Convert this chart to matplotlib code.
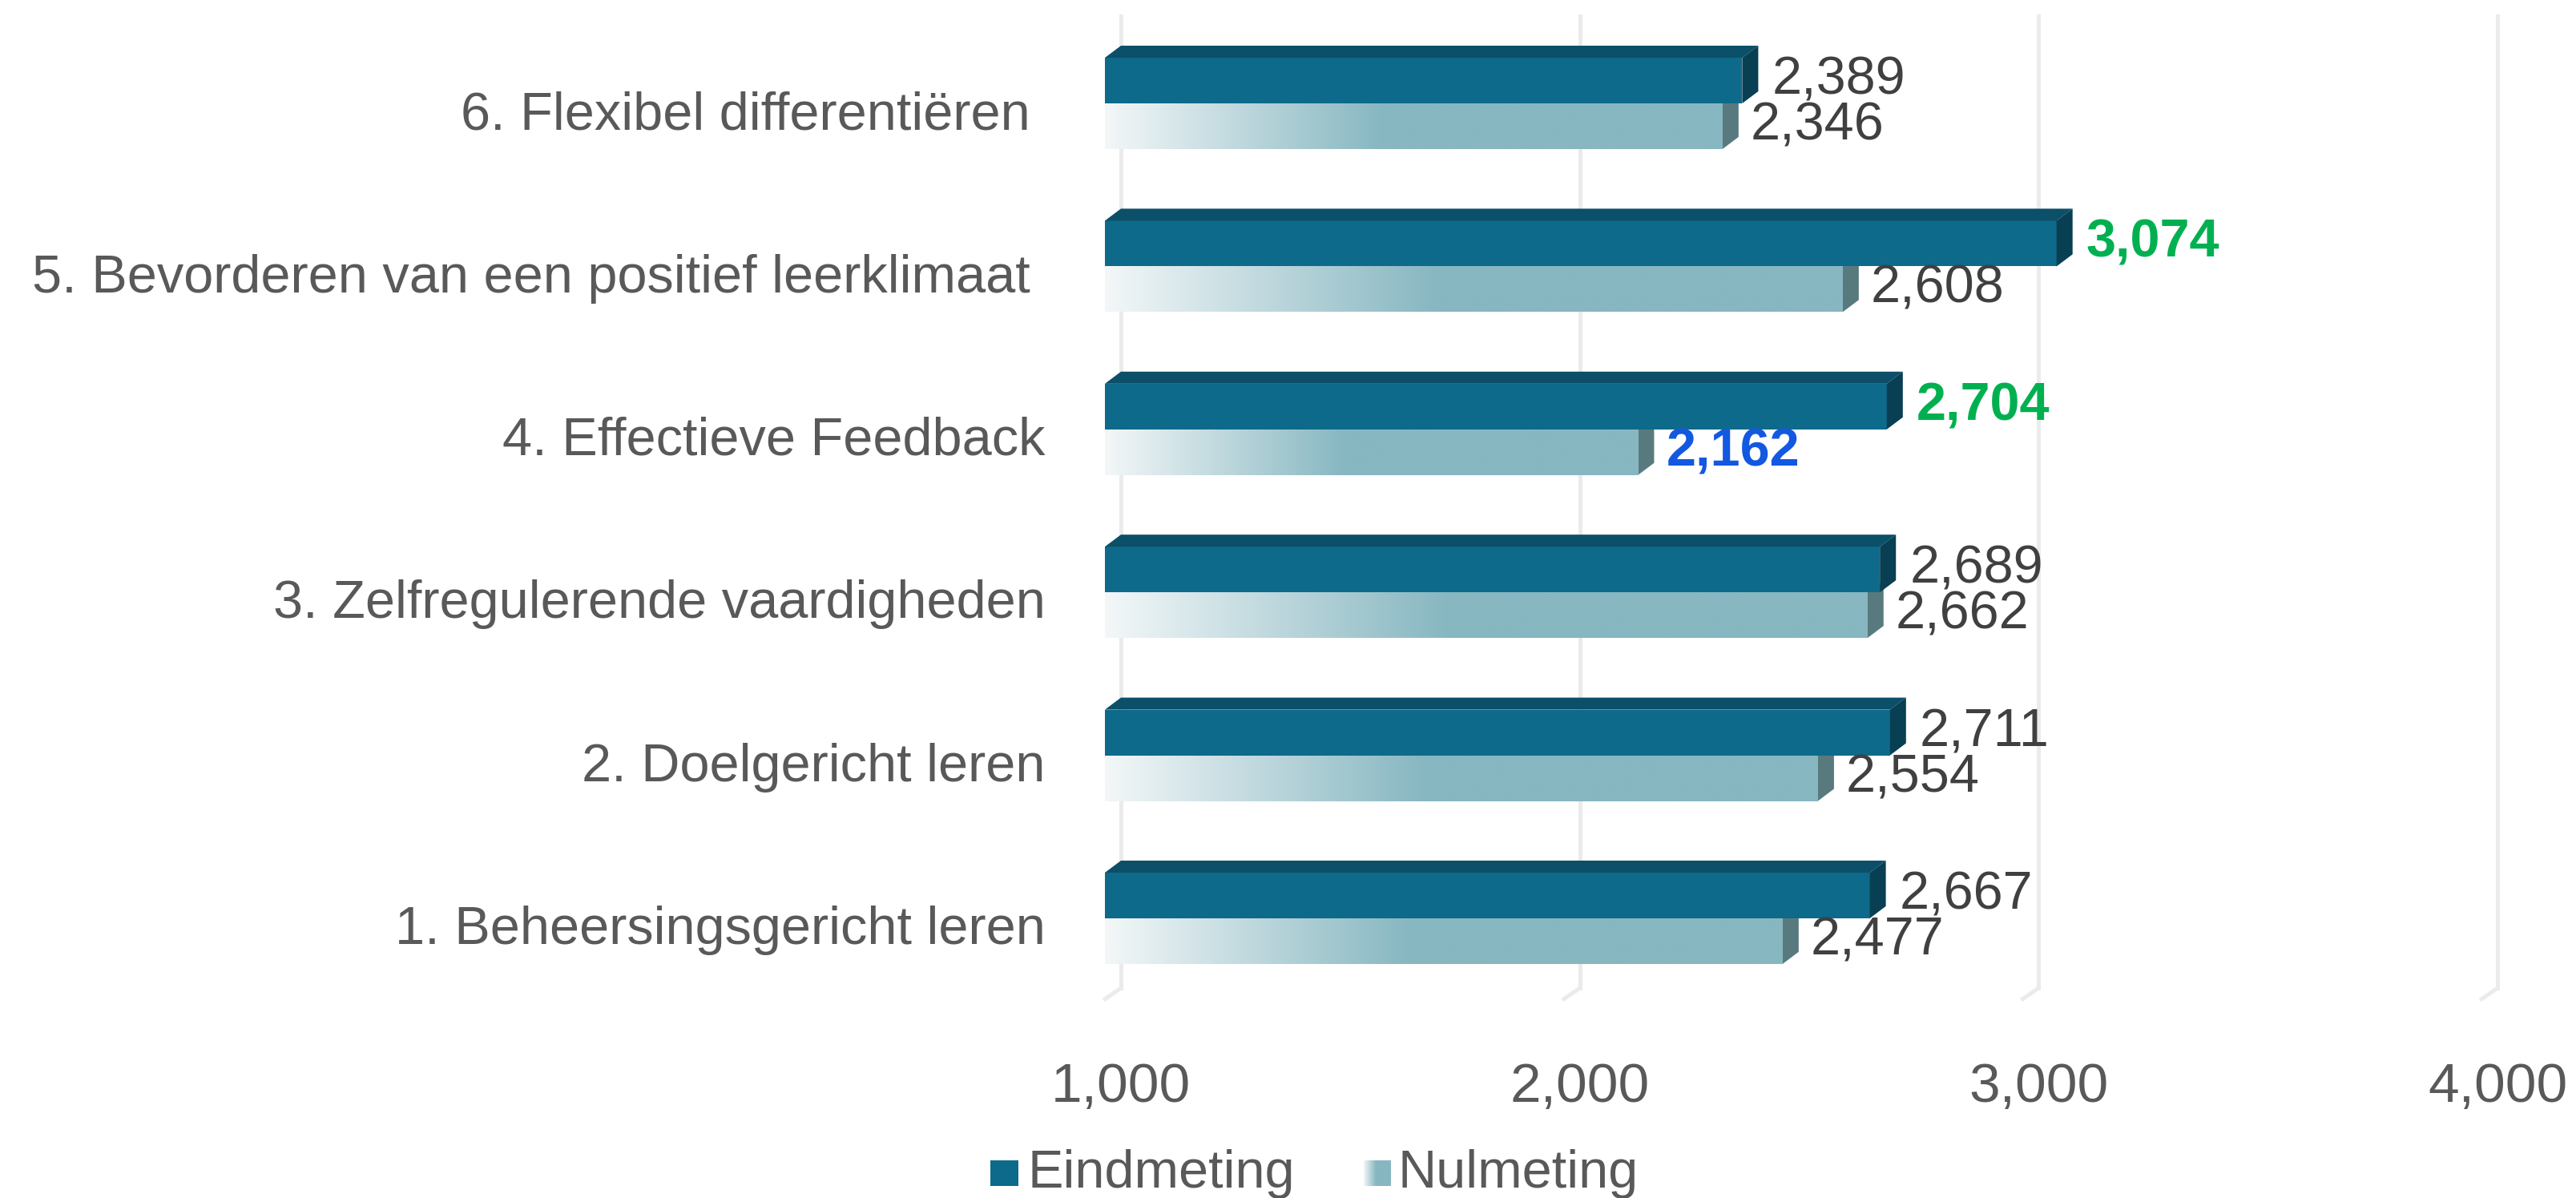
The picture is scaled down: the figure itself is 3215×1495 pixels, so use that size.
import numpy as np
import matplotlib.pyplot as plt
from matplotlib.patches import Polygon, Rectangle
from matplotlib.colors import to_rgb

plt.rcParams['font.family'] = ['Liberation Sans', 'DejaVu Sans']

# data (bottom to top)
categories = ["1. Beheersingsgericht leren", "2. Doelgericht leren",
              "3. Zelfregulerende vaardigheden", "4. Effectieve Feedback",
              "5. Bevorderen van een positief leerklimaat ",
              "6. Flexibel differentiëren "]
eindmeting = [2.667, 2.711, 2.689, 2.704, 3.074, 2.389]
nulmeting = [2.477, 2.554, 2.662, 2.162, 2.608, 2.346]
eind_label_colors = ['#404040', '#404040', '#404040', '#00B050', '#00B050', '#404040']
nul_label_colors = ['#404040', '#404040', '#404040', '#1358E0', '#404040', '#404040']
xticks = [1, 2, 3, 4]

# look
EIND_FRONT = '#0E6A8A'
EIND_TOP = '#0B4F68'
EIND_SIDE = '#093F53'
NUL_FRONT = '#87B7C1'
NUL_LIGHT = '#F3F7F8'
NUL_SIDE = '#587A7E'
GRID = '#EBEBEB'
TXT = '#595959'
H = 0.28        # bar thickness (front face)
DX = 0.035      # depth offset in x
DY = 0.074      # depth offset in y
FS = 48
YLO, YHI = -0.428, 5.536

W, Hpx = 3215, 1495
fig = plt.figure(figsize=(W / 100, Hpx / 100), dpi=100)
ax = fig.add_axes([1399 / W, (Hpx - 1233) / Hpx, (3117 - 1399) / W, (1233 - 20) / Hpx])
ax.set_xlim(1, 4)
ax.set_ylim(YLO, YHI)

# grid on back wall + floor stubs
for x in xticks:
    ax.plot([x, x], [YLO, YHI], color=GRID, lw=3.6, zorder=0, clip_on=False)
    ax.plot([x, x - 0.038], [YLO, YLO - DY], color=GRID, lw=3.6, zorder=0,
            clip_on=False, solid_capstyle='butt')

def grad_img(n=256):
    t = np.clip(np.linspace(0, 1, n) / 0.45, 0, 1)
    c0, c1 = np.array(to_rgb(NUL_LIGHT)), np.array(to_rgb(NUL_FRONT))
    return (c0[None, :] * (1 - t[:, None]) + c1[None, :] * t[:, None])[None, :, :]

ys = np.arange(len(categories))

# Nulmeting (lower bar of each pair)
bars = ax.barh(ys - H / 2, [v - 1 for v in nulmeting], left=1 - DX, height=H,
               color=NUL_FRONT, zorder=2, linewidth=0)
for y, v, bar in zip(ys, nulmeting, bars):
    im = ax.imshow(grad_img(), extent=[1 - DX, v - DX, y - H, y], aspect='auto',
                   zorder=2.1, interpolation='bilinear')
    im.set_clip_path(bar)
    side = Polygon([(v - DX, y - H), (v - DX, y), (v, y + DY), (v, y - H + DY)],
                   closed=True, color=NUL_SIDE, zorder=2, lw=0)
    ax.add_patch(side)
    ax.text(v + 0.026, y - H / 2, f"{v:.3f}".replace('.', ','), fontsize=FS,
            va='center', ha='left', color=nul_label_colors[y],
            fontweight='bold' if nul_label_colors[y] != '#404040' else 'normal', zorder=5)

# Eindmeting (upper bar of each pair)
ax.barh(ys + H / 2, [v - 1 for v in eindmeting], left=1 - DX, height=H,
        color=EIND_FRONT, zorder=3, linewidth=0, clip_on=False)
for y, v in zip(ys, eindmeting):
    top = Polygon([(1 - DX, y + H), (v - DX, y + H), (v, y + H + DY), (1, y + H + DY)],
                  closed=True, color=EIND_TOP, zorder=3, lw=0, clip_on=False)
    side = Polygon([(v - DX, y), (v - DX, y + H), (v, y + H + DY), (v, y + DY)],
                   closed=True, color=EIND_SIDE, zorder=3, lw=0, clip_on=False)
    ax.add_patch(top)
    ax.add_patch(side)
    ax.text(v + 0.03, y + H / 2, f"{v:.3f}".replace('.', ','), fontsize=FS,
            va='center', ha='left', color=eind_label_colors[y],
            fontweight='bold' if eind_label_colors[y] != '#404040' else 'normal', zorder=5)

ax.set_yticks(ys - 0.04)
ax.set_yticklabels(categories, fontsize=FS, color=TXT)
ax.set_xticks(xticks)
ax.set_xticklabels([f"{x:,.3f}".replace('.', ',') for x in xticks], fontsize=FS + 2, color=TXT)
ax.tick_params(axis='y', length=0, pad=68)
ax.tick_params(axis='x', length=0, pad=66)
for s in ax.spines.values():
    s.set_visible(False)

# legend
ly = (Hpx - 1465) / Hpx
fig.add_artist(Rectangle((1236 / W, (Hpx - 1480) / Hpx), 35 / W, 32 / Hpx,
                         transform=fig.transFigure, color=EIND_FRONT, lw=0))
fig.text(1283 / W, ly, "Eindmeting", fontsize=FS, color=TXT, va='center', ha='left')
lg = fig.add_axes([1702 / W, (Hpx - 1480) / Hpx, 33 / W, 32 / Hpx])
lg.imshow(grad_img(), aspect='auto', extent=[0, 1, 0, 1])
lg.axis('off')
fig.text(1745 / W, ly, "Nulmeting", fontsize=FS, color=TXT, va='center', ha='left')

fig.savefig('out.png', dpi=100, facecolor='white')
